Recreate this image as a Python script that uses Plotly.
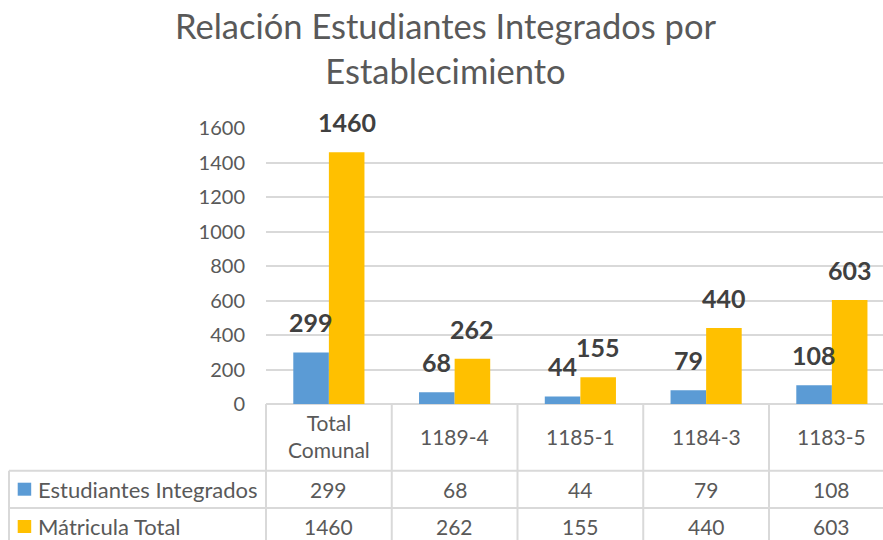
import plotly.graph_objects as go

# ---------------- data ----------------
categories = ["Total Comunal", "1189-4", "1185-1", "1184-3", "1183-5"]
category_labels = ["Total<br>Comunal", "1189-4", "1185-1", "1184-3", "1183-5"]
series_names = ["Estudiantes Integrados", "Mátricula Total"]
integrados = [299, 68, 44, 79, 108]
matricula = [1460, 262, 155, 440, 603]
y_ticks = [0, 200, 400, 600, 800, 1000, 1200, 1400, 1600]
title_text = "Relación Estudiantes Integrados por<br>Establecimiento"

# ---------------- style ----------------
W, H = 883, 540
L, R, T, B = 266, 883, 128, 404          # plot area in pixels
CAT_W = 125.75                            # pixel width of one category
BLUE, YELLOW = "#5B9BD5", "#FFC000"
GRID = "#D9D9D9"
TXT = "#595959"
LBL = "#404040"
FONT = "Lato"

x_range = [-0.5, -0.5 + (R - L) / CAT_W]


def px_x(px):
    return (px - L) / (R - L)


def px_y(py):
    return (B - py) / (B - T)


fig = go.Figure()
fig.add_trace(go.Bar(x=categories, y=integrados, name=series_names[0],
                     marker=dict(color=BLUE, line=dict(width=0))))
fig.add_trace(go.Bar(x=categories, y=matricula, name=series_names[1],
                     marker=dict(color=YELLOW, line=dict(width=0))))

bar_px = (1 - 0.434) * CAT_W / 2
annotations = []
# title
annotations.append(dict(x=px_x(445), y=px_y(3), xref="paper", yref="paper", text=title_text,
                        showarrow=False, xanchor="center", yanchor="top", align="center",
                        font=dict(family=FONT, size=34.5, color=TXT)))
# data labels
for vals, sh in ((integrados, -bar_px / 2), (matricula, bar_px / 2)):
    for c, v in zip(categories, vals):
        annotations.append(dict(x=c, y=v, xref="x", yref="y", text=f"<b>{v}</b>",
                                showarrow=False, xshift=sh, yshift=13,
                                yanchor="bottom", xanchor="center",
                                font=dict(family=FONT, size=25, color=LBL)))

# table: header row (category names)
row_mid = [436.0, 489.5, 526.5]
for c, lab in zip(categories, category_labels):
    annotations.append(dict(x=c, y=px_y(row_mid[0]), xref="x", yref="paper", text=lab,
                            showarrow=False, yanchor="middle", xanchor="center",
                            font=dict(family=FONT, size=21, color=TXT)))
# table: value rows
for r, (name, vals) in enumerate(zip(series_names, (integrados, matricula))):
    ym = px_y(row_mid[r + 1])
    annotations.append(dict(x=px_x(36), y=ym, xref="paper", yref="paper", text=name,
                            showarrow=False, yanchor="middle", xanchor="left",
                            font=dict(family=FONT, size=22, color=TXT)))
    for c, v in zip(categories, vals):
        annotations.append(dict(x=c, y=ym, xref="x", yref="paper", text=str(v),
                                showarrow=False, yanchor="middle", xanchor="center",
                                font=dict(family=FONT, size=21, color=TXT)))

shapes = []
line = dict(color=GRID, width=2)
# horizontal table lines
for yy in (470.7, 508.0):
    shapes.append(dict(type="line", xref="paper", yref="paper",
                       x0=px_x(9), x1=px_x(R), y0=px_y(yy), y1=px_y(yy), line=line))
# vertical table lines
shapes.append(dict(type="line", xref="paper", yref="paper",
                   x0=px_x(9), x1=px_x(9), y0=px_y(470.7), y1=px_y(560), line=line))
for k in range(len(categories)):
    xx = L + k * CAT_W
    shapes.append(dict(type="line", xref="paper", yref="paper",
                       x0=px_x(xx), x1=px_x(xx), y0=px_y(B), y1=px_y(560), line=line))
# legend keys
for r, col in enumerate((BLUE, YELLOW)):
    top = 482.7 + r * 37.3
    shapes.append(dict(type="rect", xref="paper", yref="paper",
                       x0=px_x(17.7), x1=px_x(31.2), y0=px_y(top), y1=px_y(top + 13),
                       line=dict(width=0), fillcolor=col))

fig.update_layout(
    width=W, height=H,
    margin=dict(l=L, r=W - R, t=T, b=H - B, pad=0),
    paper_bgcolor="white", plot_bgcolor="white",
    barmode="group", bargap=0.434, bargroupgap=0,
    showlegend=False,
    xaxis=dict(type="category", range=x_range, showticklabels=False, showgrid=False,
               zeroline=False, showline=False, ticks=""),
    yaxis=dict(range=[0, 1600], tickvals=y_ticks, showgrid=True, gridcolor=GRID, gridwidth=2,
               zeroline=True, zerolinecolor=GRID, zerolinewidth=2, showline=False,
               ticks="", ticklabelstandoff=20,
               tickfont=dict(family=FONT, size=20, color=TXT)),
    annotations=annotations,
    shapes=shapes,
)

fig.write_html("out.html", config={"displayModeBar": False},
               post_script="document.body.style.margin='0';document.body.style.overflow='hidden';")
